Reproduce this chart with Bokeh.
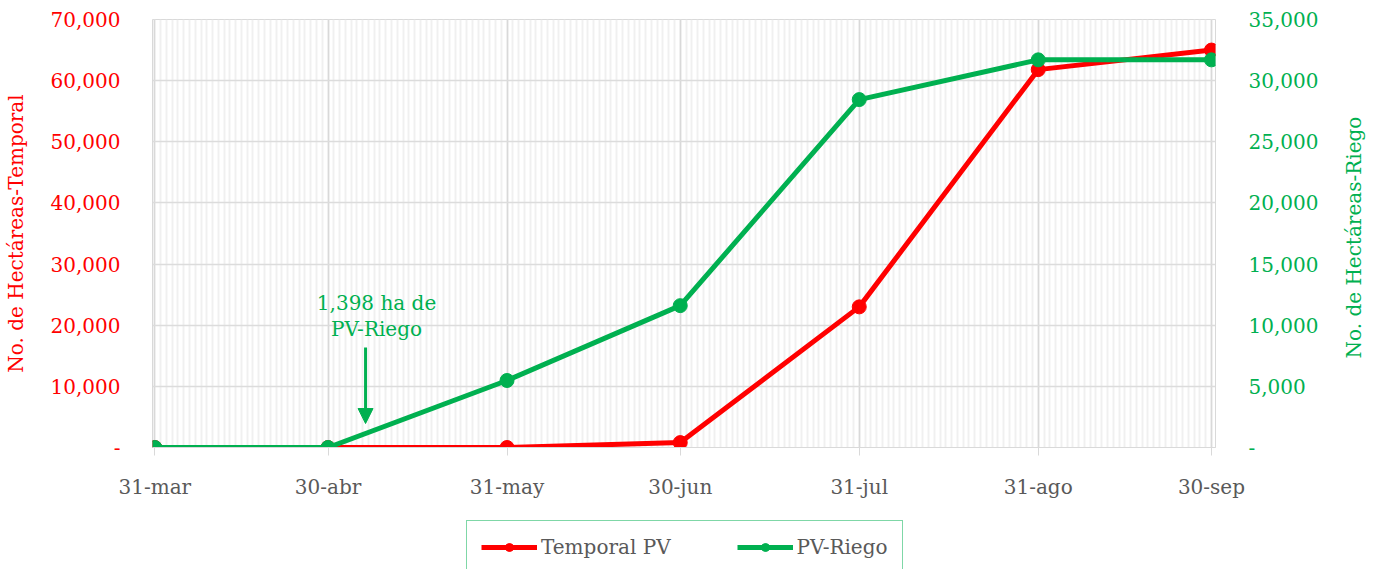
import math
import pandas as pd
from bokeh.plotting import figure
from bokeh.layouts import column
from bokeh.models import (Range1d, LinearAxis, FixedTicker, SingleIntervalTicker,
                          NumeralTickFormatter, Legend, LegendItem, Label, Arrow, NormalHead)
from bokeh.embed import file_html
from bokeh.resources import INLINE

# ---------------- data ----------------
dates = ["2023-03-31", "2023-04-30", "2023-05-31", "2023-06-30",
         "2023-07-31", "2023-08-31", "2023-09-30"]
tick_labels = ["31-mar", "30-abr", "31-may", "30-jun", "31-jul", "31-ago", "30-sep"]
temporal_pv = [0, 0, 0, 800, 23000, 61800, 65000]
pv_riego = [0, 0, 5480, 11600, 28450, 31700, 31700]
series_names = ["Temporal PV", "PV-Riego"]
annotation_lines = ["1,398 ha de", "PV-Riego"]
left_title = "No. de Hectáreas-Temporal"
right_title = "No. de Hectáreas-Riego"

RED = "#FF0000"
GREEN = "#00B050"
GREY_TXT = "#595959"
FONT = "DejaVu Serif"
FS = "20px"
FW, FH = 1063, 428

DAY = 86400000.0
x = pd.to_datetime(dates)
x_ms = [d.timestamp() * 1000.0 for d in x]
minor_ms = [d.timestamp() * 1000.0 for d in pd.date_range(dates[0], dates[-1], freq="D")]

p = figure(frame_width=FW, frame_height=FH, x_axis_type="datetime",
           x_range=Range1d(x_ms[0] - 0.4 * DAY, x_ms[-1] + 0.7 * DAY),
           y_range=Range1d(0, 70000),
           output_backend="svg", toolbar_location=None,
           min_border_left=145, min_border_right=152, min_border_top=19,
           min_border_bottom=71)
p.extra_y_ranges = {"riego": Range1d(0, 35000)}
p.background_fill_color = "white"
p.border_fill_color = "white"
p.outline_line_color = "#D9D9D9"
p.outline_line_width = 1

# x axis
xa = p.xaxis[0]
xa.ticker = FixedTicker(ticks=x_ms, minor_ticks=minor_ms)
xa.major_label_overrides = {float(m): lab for m, lab in zip(x_ms, tick_labels)}
xa.major_label_text_color = GREY_TXT
xa.major_label_text_font = FONT
xa.major_label_text_font_size = FS
xa.axis_line_color = "#D9D9D9"
xa.major_tick_line_color = "#D9D9D9"
xa.major_tick_in = 0
xa.major_tick_out = 8
xa.minor_tick_line_color = None
xa.minor_tick_in = 0
xa.minor_tick_out = 0
xa.major_label_standoff = 19

# left axis
ya = p.yaxis[0]
ya.ticker = SingleIntervalTicker(interval=10000)
ya.formatter = NumeralTickFormatter(format="0,0")
ya.major_label_overrides = {0: "-"}
ya.major_label_text_color = RED
ya.major_label_text_font = FONT
ya.major_label_text_font_size = FS
ya.axis_line_color = None
ya.major_tick_line_color = None
ya.minor_tick_line_color = None
ya.major_tick_in = 0
ya.major_tick_out = 0
ya.minor_tick_in = 0
ya.minor_tick_out = 0
ya.major_label_standoff = 32
ya.axis_label = left_title
ya.axis_label_text_color = RED
ya.axis_label_text_font = FONT
ya.axis_label_text_font_size = FS
ya.axis_label_text_font_style = "normal"
ya.axis_label_standoff = 20

# right axis
ra = LinearAxis(y_range_name="riego", ticker=SingleIntervalTicker(interval=5000),
                formatter=NumeralTickFormatter(format="0,0"))
ra.major_label_overrides = {0: "-"}
ra.major_label_text_color = GREEN
ra.major_label_text_font = FONT
ra.major_label_text_font_size = FS
ra.axis_line_color = None
ra.major_tick_line_color = None
ra.minor_tick_line_color = None
ra.major_tick_in = 0
ra.major_tick_out = 0
ra.minor_tick_in = 0
ra.minor_tick_out = 0
ra.major_label_standoff = 33
# title reads bottom-to-top; non-breaking spaces lift it to sit centred like the reference
ra.axis_label = "\u00a0" * 14 + right_title
ra.axis_label_orientation = math.pi / 2
ra.axis_label_align = "start"
ra.axis_label_text_color = GREEN
ra.axis_label_text_font = FONT
ra.axis_label_text_font_size = FS
ra.axis_label_text_font_style = "normal"
ra.axis_label_standoff = 33
p.add_layout(ra, "right")

# grids
p.xgrid.grid_line_color = "#D9D9D9"
p.xgrid.grid_line_width = 1.5
p.xgrid.minor_grid_line_color = "#F0F0F0"
p.xgrid.minor_grid_line_width = 2
p.ygrid.grid_line_color = "#DCDCDC"
p.ygrid.grid_line_width = 1.5

# series
r1l = p.line(x_ms, temporal_pv, line_color=RED, line_width=5)
r1s = p.scatter(x_ms, temporal_pv, size=14, fill_color=RED, line_color=RED)
r2l = p.line(x_ms, pv_riego, line_color=GREEN, line_width=5, y_range_name="riego")
r2s = p.scatter(x_ms, pv_riego, size=14, fill_color=GREEN, line_color=GREEN, y_range_name="riego")

# annotation
ann_x = x_ms[1] + 8.4 * DAY
arrow_x = x_ms[1] + 6.5 * DAY
p.add_layout(Label(x=ann_x, y=11856, y_range_name="riego", text=annotation_lines[0],
                   text_align="center", text_baseline="middle", text_color=GREEN,
                   text_font=FONT, text_font_size=FS))
p.add_layout(Label(x=ann_x, y=9650, y_range_name="riego", text=annotation_lines[1],
                   text_align="center", text_baseline="middle", text_color=GREEN,
                   text_font=FONT, text_font_size=FS))
p.add_layout(Arrow(x_start=arrow_x, y_start=8180, x_end=arrow_x, y_end=1960,
                   y_range_name="riego", line_color=GREEN, line_width=3,
                   end=NormalHead(size=15, fill_color=GREEN, line_color=GREEN)))

# legend strip: a small companion figure holding only the legend
# (its renderers carry the same series, which fall outside this strip's view)
p2 = figure(width=1360, height=51, x_range=Range1d(0, 1), y_range=Range1d(0, 1),
            output_backend="svg", toolbar_location=None, min_border=0,
            x_axis_location=None, y_axis_location=None)
p2.outline_line_color = None
p2.grid.visible = False
p2.background_fill_color = "white"
p2.border_fill_color = "white"
l1 = p2.line(x_ms, temporal_pv, line_color=RED, line_width=5)
s1 = p2.scatter(x_ms, temporal_pv, size=12, fill_color=RED, line_color=RED)
l2 = p2.line(x_ms, pv_riego, line_color=GREEN, line_width=5)
s2 = p2.scatter(x_ms, pv_riego, size=12, fill_color=GREEN, line_color=GREEN)
legend = Legend(items=[LegendItem(label=series_names[0], renderers=[l1, s1]),
                       LegendItem(label=series_names[1], renderers=[l2, s2])],
                orientation="horizontal", location=(314, -5),
                border_line_color=GREEN, border_line_width=1.5,
                background_fill_color="white", background_fill_alpha=1.0,
                label_text_color=GREY_TXT, label_text_font=FONT,
                label_text_font_size=FS, glyph_width=56, glyph_height=20,
                label_standoff=4, spacing=66, padding=14, margin=0)
p2.add_layout(legend, "center")

open("out.html", "w").write(file_html(column(p, p2), INLINE))
